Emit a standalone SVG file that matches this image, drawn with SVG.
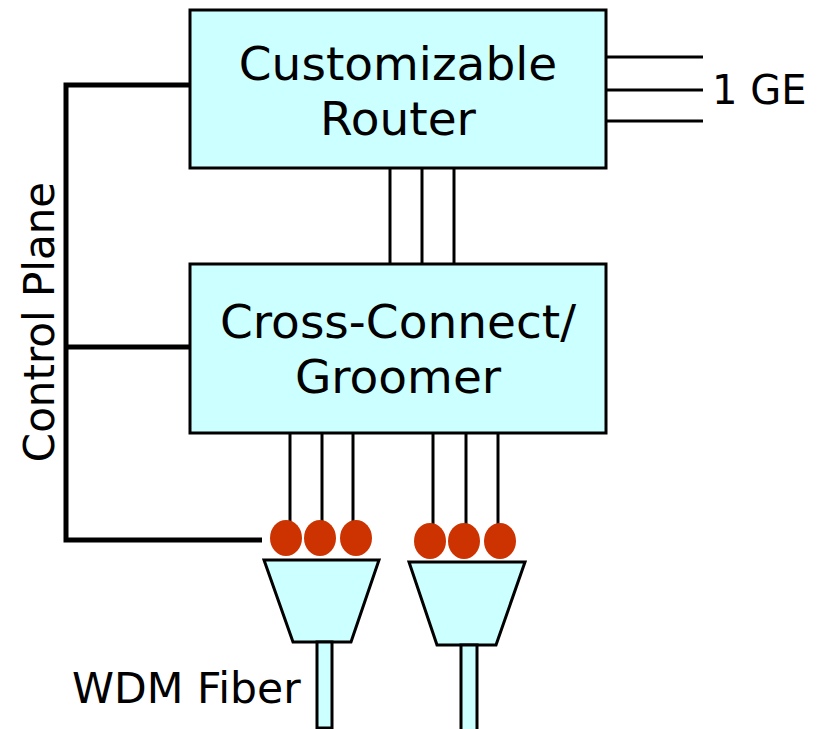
<svg xmlns="http://www.w3.org/2000/svg" width="820" height="729" viewBox="0 0 820 729">
  <style>
    .box { fill: #ccffff; stroke: #000; stroke-width: 3; }
    .thin { stroke: #000; stroke-width: 3; fill: none; }
    .thick { stroke: #000; stroke-width: 5; fill: none; }
    .port { fill: #cc3300; }
    .lbl { font-family: "DejaVu Sans", Verdana, sans-serif; fill: #000; }
  </style>

  <!-- connectors -->
  <g id="connectors">
    <!-- control plane bus -->
    <polyline class="thick" points="190,85 66,85 66,540 262,540"/>
    <line class="thick" x1="66" y1="347" x2="192" y2="347"/>
    <!-- 1 GE ports -->
    <line class="thin" x1="606" y1="57" x2="703" y2="57"/>
    <line class="thin" x1="606" y1="90" x2="703" y2="90"/>
    <line class="thin" x1="606" y1="121" x2="703" y2="121"/>
    <!-- router to cross-connect -->
    <line class="thin" x1="390" y1="168" x2="390" y2="264"/>
    <line class="thin" x1="422" y1="168" x2="422" y2="264"/>
    <line class="thin" x1="454" y1="168" x2="454" y2="264"/>
    <!-- cross-connect to wavelengths -->
    <line class="thin" x1="290" y1="433" x2="290" y2="522"/>
    <line class="thin" x1="322" y1="433" x2="322" y2="522"/>
    <line class="thin" x1="353" y1="433" x2="353" y2="522"/>
    <line class="thin" x1="433" y1="433" x2="433" y2="525"/>
    <line class="thin" x1="466" y1="433" x2="466" y2="525"/>
    <line class="thin" x1="498" y1="433" x2="498" y2="525"/>
  </g>

  <g id="router">
    <rect class="box" x="190" y="10" width="416" height="158"/>
    <text class="lbl" x="398" y="80" font-size="47" text-anchor="middle">Customizable</text>
    <text class="lbl" x="398" y="135" font-size="47" text-anchor="middle">Router</text>
  </g>

  <g id="crossconnect">
    <rect class="box" x="190" y="264" width="416" height="169"/>
    <text class="lbl" x="398" y="338" font-size="47" text-anchor="middle">Cross-Connect/</text>
    <text class="lbl" x="398" y="393" font-size="47" text-anchor="middle">Groomer</text>
  </g>

  <g id="mux-left">
    <ellipse class="port" cx="286" cy="538" rx="16" ry="18"/>
    <ellipse class="port" cx="320" cy="538" rx="16" ry="18"/>
    <ellipse class="port" cx="356" cy="538" rx="16" ry="18"/>
    <polygon class="box" points="264,560 379,560 351,642 293,642"/>
    <rect class="box" x="317" y="642" width="15" height="86"/>
  </g>

  <g id="mux-right">
    <ellipse class="port" cx="430" cy="541" rx="16" ry="18"/>
    <ellipse class="port" cx="464" cy="541" rx="16" ry="18"/>
    <ellipse class="port" cx="500" cy="541" rx="16" ry="18"/>
    <polygon class="box" points="409,562 525,562 496,645 437,645"/>
    <rect class="box" x="461" y="645" width="16" height="90"/>
  </g>

  <g id="labels">
    <text class="lbl" x="712" y="104" font-size="40">1 GE</text>
    <text class="lbl" x="72" y="703" font-size="42.5">WDM Fiber</text>
    <text class="lbl" font-size="42" text-anchor="middle" transform="translate(54,322) rotate(-90)">Control Plane</text>
  </g>
</svg>
